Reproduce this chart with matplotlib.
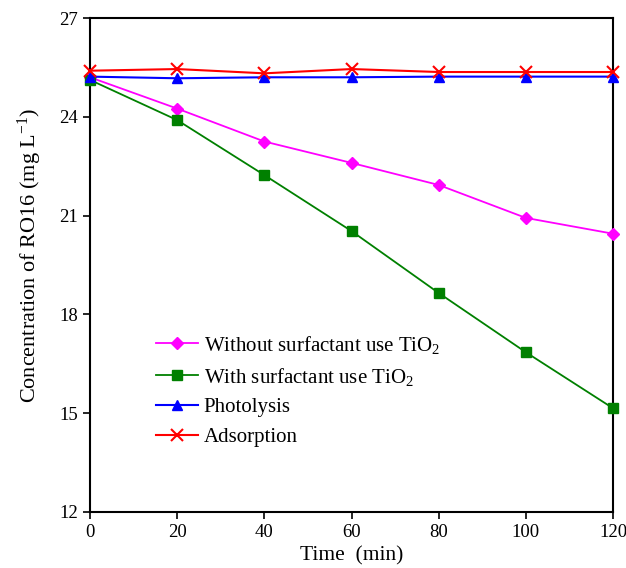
import matplotlib
matplotlib.use("Agg")
import matplotlib.pyplot as plt

plt.rcParams['font.family'] = ['Liberation Serif', 'DejaVu Serif']
plt.rcParams['mathtext.fontset'] = 'custom'
plt.rcParams['mathtext.rm'] = 'Liberation Serif'
plt.rcParams['mathtext.it'] = 'Liberation Serif:italic'

# Data
time = [0, 20, 40, 60, 80, 100, 120]
without_surf = [25.2, 24.25, 23.25, 22.6, 21.93, 20.93, 20.45]
with_surf = [25.12, 23.9, 22.23, 20.53, 18.65, 16.85, 15.15]
photolysis = [25.22, 25.17, 25.2, 25.2, 25.22, 25.22, 25.22]
adsorption = [25.4, 25.45, 25.32, 25.45, 25.36, 25.36, 25.36]

fig = plt.figure(figsize=(6.26, 5.68), dpi=100)
ax = fig.add_axes([0.1438, 0.0986, 0.8355, 0.8697])

ax.plot(time, without_surf, color='magenta', marker='D', markersize=6, lw=1.3,
        label='Without surfactant use TiO$_2$', clip_on=False, zorder=3)
ax.plot(time, with_surf, color='green', marker='s', markersize=7, lw=1.3,
        label='With surfactant use TiO$_2$', clip_on=False, zorder=3)
ax.plot(time, photolysis, color='blue', marker='^', markersize=7, lw=1.5,
        label='Photolysis', clip_on=False, zorder=3)
ax.plot(time, adsorption, color='red', marker='x', markersize=9, mew=1.5, lw=1.5,
        label='Adsorption', clip_on=False, zorder=4)

ax.set_xlim(0, 120)
ax.set_ylim(12, 27)
ax.set_xticks(range(0, 121, 20))
ax.set_yticks(range(12, 28, 3))
ax.tick_params(direction='out', length=5, width=1.2, labelsize=13.5, top=False, right=False)
for s in ax.spines.values():
    s.set_linewidth(1.5)

ax.set_xlabel('Time  (min)', fontsize=15.5, labelpad=4)
ax.set_ylabel('Concentration of RO16 (mg L$^{-1}$)', fontsize=16)
ax.yaxis.set_label_coords(-0.088, 0.52)

ax.legend(loc='lower left', bbox_to_anchor=(0.11, 0.115), frameon=False, fontsize=15,
          handlelength=2.0, handletextpad=0.3, labelspacing=0.48, borderaxespad=0)

fig.savefig('out.png', dpi=100)
